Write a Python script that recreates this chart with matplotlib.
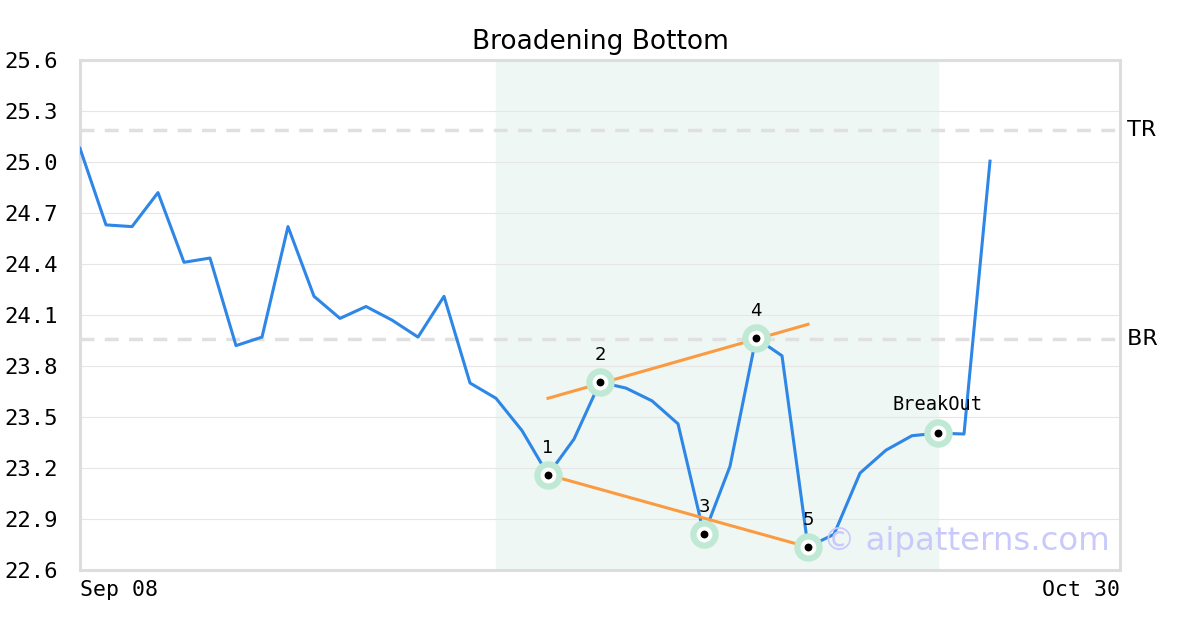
import matplotlib
matplotlib.use("Agg")
import matplotlib.pyplot as plt
import numpy as np

# price series (one point per trading day)
prices = [25.08, 24.63, 24.62, 24.82, 24.41, 24.435, 23.92, 23.97, 24.62, 24.21,
          24.08, 24.15, 24.07, 23.97, 24.21, 23.70, 23.61, 23.42, 23.16, 23.37,
          23.705, 23.67, 23.595, 23.46, 22.81, 23.21, 23.965, 23.86, 22.735, 22.81,
          23.17, 23.305, 23.39, 23.405, 23.40, 25.005]
n_slots = 40

top_res = 25.19
bot_res = 23.96
shade_start, shade_end = 16, 33

pivot_idx = [18, 20, 24, 26, 28]
pivot_labels = ["1", "2", "3", "4", "5"]
breakout_idx = 33

upper_x = [18, 28]
upper_y = [23.61, 24.045]
lower_x = [18, 28]
lower_y = [23.16, 22.735]

yticks = [22.6, 22.9, 23.2, 23.5, 23.8, 24.1, 24.4, 24.7, 25.0, 25.3, 25.6]


def main():
    fig = plt.figure(figsize=(12, 6.3), dpi=100)
    ax = fig.add_axes([80 / 1200, 60 / 630, 1040 / 1200, 510 / 630])

    x = np.arange(len(prices))
    ax.axvspan(shade_start, shade_end, color="#eef7f3", zorder=0)
    for v in yticks[1:-1]:
        ax.axhline(v, color="#e6e6e6", lw=0.8, zorder=1)
    ax.axhline(top_res, color="#e0e0e0", lw=2.5, ls=(0, (4, 3)), zorder=1)
    ax.axhline(bot_res, color="#e0e0e0", lw=2.5, ls=(0, (4, 3)), zorder=1)

    ax.plot(x, prices, color="#2e86e6", lw=2.2, zorder=3)
    ax.plot(upper_x, upper_y, color="#fb9a40", lw=2.2, zorder=4)
    ax.plot(lower_x, lower_y, color="#fb9a40", lw=2.2, zorder=4)

    pts = pivot_idx + [breakout_idx]
    py = [prices[i] for i in pts]
    ax.scatter(pts, py, s=420, color="#bfe9d5", zorder=5, linewidths=0)
    ax.scatter(pts, py, s=130, color="white", zorder=6, linewidths=0)
    ax.scatter(pts, py, s=32, color="black", zorder=7, linewidths=0)

    for i, lab in zip(pivot_idx, pivot_labels):
        ax.annotate(lab, (i, prices[i]), xytext=(0, 13), textcoords="offset points",
                    ha="center", va="bottom", fontsize=13, zorder=8)
    ax.annotate("BreakOut", (breakout_idx, prices[breakout_idx]), xytext=(0, 14),
                textcoords="offset points", ha="center", va="bottom", fontsize=13.4,
                family="DejaVu Sans Mono", zorder=8)

    ax.text(1.0, top_res, " TR", transform=ax.get_yaxis_transform(), va="center",
            ha="left", fontsize=16)
    ax.text(1.0, bot_res, " BR", transform=ax.get_yaxis_transform(), va="center",
            ha="left", fontsize=16)

    ax.text(0.99, 0.055, "© aipatterns.com", transform=ax.transAxes, ha="right",
            va="center", fontsize=23.3, color="#c9c9fb", zorder=9)

    ax.set_xlim(0, n_slots)
    ax.set_ylim(22.6, 25.6)
    ax.set_yticks(yticks)
    ax.set_yticklabels([f"{v:.1f}" for v in yticks], family="DejaVu Sans Mono",
                       fontsize=16)
    ax.set_xticks([])
    ax.tick_params(axis="y", length=0, pad=16)
    ax.text(0, -0.02, "Sep 08", transform=ax.transAxes, ha="left", va="top",
            family="DejaVu Sans Mono", fontsize=15.5)
    ax.text(1, -0.02, "Oct 30", transform=ax.transAxes, ha="right", va="top",
            family="DejaVu Sans Mono", fontsize=15.5)

    for s in ax.spines.values():
        s.set_color("#dddddd")
        s.set_linewidth(2.2)

    ax.set_title("Broadening Bottom", fontsize=19, pad=8)
    fig.savefig("out.png", dpi=100)


if __name__ == "__main__":
    main()
